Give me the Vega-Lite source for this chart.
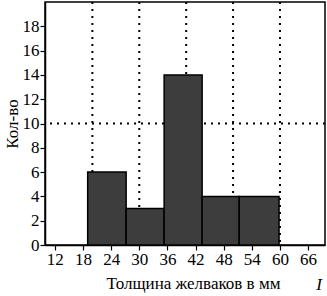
{
  "$schema": "https://vega.github.io/schema/vega-lite/v6.json",
  "autosize": {"type": "none"},
  "width": 280,
  "height": 243,
  "padding": {"left": 45, "top": 2, "right": 2, "bottom": 51},
  "background": "white",
  "config": {
    "font": "Liberation Serif",
    "view": {"stroke": "black", "strokeWidth": 1.5},
    "axis": {
      "labelFont": "Liberation Serif",
      "titleFont": "Liberation Serif",
      "labelFontSize": 17,
      "titleFontSize": 17,
      "labelColor": "black",
      "titleColor": "black",
      "domainColor": "black",
      "tickColor": "black",
      "domainWidth": 1.5,
      "tickWidth": 1.2,
      "tickSize": 5,
      "grid": false,
      "labelOverlap": false,
      "labelPadding": 1,
      "titleFontWeight": "normal"
    }
  },
  "title": {
    "text": "I",
    "orient": "bottom",
    "anchor": "end",
    "font": "Liberation Serif",
    "fontStyle": "italic",
    "fontWeight": "normal",
    "fontSize": 17,
    "color": "black",
    "offset": -14,
    "dx": -4
  },
  "layer": [
    {
      "data": {"values": [{"g": 20}, {"g": 30}, {"g": 40}, {"g": 50}, {"g": 60}]},
      "mark": {"type": "rule", "strokeDash": [2, 5], "strokeWidth": 2, "color": "black"},
      "encoding": {
        "x": {
          "field": "g",
          "type": "quantitative",
          "scale": {"domain": [9.9, 69.6], "nice": false, "zero": false},
          "axis": {
            "values": [12, 18, 24, 30, 36, 42, 48, 54, 60, 66],
            "title": "Толщина желваков в мм",
            "titlePadding": 8,
            "titleX": 148
          }
        }
      }
    },
    {
      "data": {"values": [{"h": 10}]},
      "mark": {"type": "rule", "strokeDash": [2, 5], "strokeWidth": 2, "color": "black"},
      "encoding": {
        "y": {
          "field": "h",
          "type": "quantitative",
          "scale": {"domain": [0, 20], "nice": false},
          "axis": {
            "values": [0, 2, 4, 6, 8, 10, 12, 14, 16, 18],
            "title": "Кол-во",
            "titlePadding": 1
          }
        }
      }
    },
    {
      "data": {
        "values": [
          {"start": 19.0, "end": 27.2, "count": 6},
          {"start": 27.2, "end": 35.3, "count": 3},
          {"start": 35.3, "end": 43.4, "count": 14},
          {"start": 43.4, "end": 51.3, "count": 4},
          {"start": 51.3, "end": 59.8, "count": 4}
        ]
      },
      "mark": {"type": "bar", "fill": "#3d3d3d", "stroke": "black", "strokeWidth": 1.5},
      "encoding": {
        "x": {
          "field": "start",
          "type": "quantitative",
          "scale": {"domain": [9.9, 69.6], "nice": false, "zero": false},
          "axis": {
            "values": [12, 18, 24, 30, 36, 42, 48, 54, 60, 66],
            "title": "Толщина желваков в мм",
            "titlePadding": 8,
            "titleX": 148
          }
        },
        "x2": {"field": "end"},
        "y": {
          "field": "count",
          "type": "quantitative",
          "scale": {"domain": [0, 20], "nice": false},
          "axis": {
            "values": [0, 2, 4, 6, 8, 10, 12, 14, 16, 18],
            "title": "Кол-во",
            "titlePadding": 1
          }
        },
        "y2": {"datum": 0}
      }
    }
  ]
}
